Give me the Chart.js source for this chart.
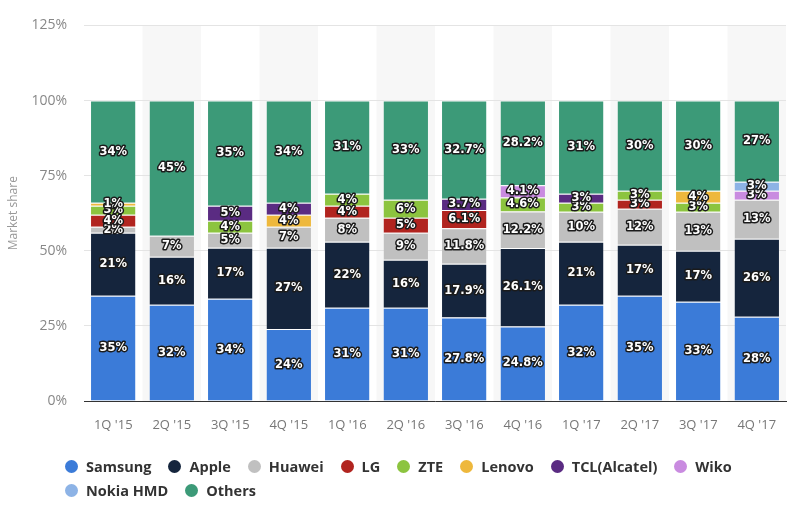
<!DOCTYPE html>
<html>
<head>
<meta charset="utf-8">
<script src="https://cdn.jsdelivr.net/npm/chart.js@4/dist/chart.umd.min.js"></script>
<style>
  html, body { margin: 0; padding: 0; background: #fff; }
  #wrap { position: relative; width: 800px; height: 519px; }
  #legend {
    position: absolute; left: 65px; top: 456px; width: 720px;
    font-family: "Open Sans", sans-serif; font-weight: 700; font-size: 14.5px; color: #333;
    display: flex; flex-wrap: wrap; row-gap: 2px;
  }
  .item { display: flex; align-items: center; margin-right: 17px; height: 20px; }
  .dot { width: 13px; height: 13px; border-radius: 50%; margin-right: 8px; }
  .brk { flex-basis: 100%; height: 0; }
</style>
</head>
<body>
<div id="wrap">
  <canvas id="chart" width="800" height="519"></canvas>
  <div id="legend"></div>
</div>
<script>
// quarters
const quarters = ["1Q '15", "2Q '15", "3Q '15", "4Q '15", "1Q '16", "2Q '16", "3Q '16", "4Q '16", "1Q '17", "2Q '17", "3Q '17", "4Q '17"];

// market share per vendor (%), null = not shown
const samsung = [35, 32, 34, 24, 31, 31, 27.8, 24.8, 32, 35, 33, 28];
const apple   = [21, 16, 17, 27, 22, 16, 17.9, 26.1, 21, 17, 17, 26];
const huawei  = [2, 7, 5, 7, 8, 9, 11.8, 12.2, 10, 12, 13, 13];
const lg      = [4, null, null, null, 4, 5, 6.1, null, null, 3, null, null];
const zte     = [3, null, 4, null, 4, 6, null, 4.6, 3, 3, 3, null];
const lenovo  = [1, null, null, 4, null, null, null, null, null, null, 4, null];
const tcl     = [null, null, 5, 4, null, null, 3.7, null, 3, null, null, null];
const wiko    = [null, null, null, null, null, null, null, 4.1, null, null, null, 3];
const nokia   = [null, null, null, null, null, null, null, null, null, null, null, 3];
const others  = [34, 45, 35, 34, 31, 33, 32.7, 28.2, 31, 30, 30, 27];

const yTicks = [0, 25, 50, 75, 100, 125];

const series = [
  { label: "Samsung", data: samsung, color: "#3b7bd8" },
  { label: "Apple", data: apple, color: "#15253d" },
  { label: "Huawei", data: huawei, color: "#c0c0c0" },
  { label: "LG", data: lg, color: "#b1241f" },
  { label: "ZTE", data: zte, color: "#8cc43f" },
  { label: "Lenovo", data: lenovo, color: "#eeb83c" },
  { label: "TCL(Alcatel)", data: tcl, color: "#5a2b82" },
  { label: "Wiko", data: wiko, color: "#c98be0" },
  { label: "Nokia HMD", data: nokia, color: "#8db3e6" },
  { label: "Others", data: others, color: "#3c9a78" }
];

// alternating column shading
const bandPlugin = {
  id: "bands",
  beforeDraw(chart) {
    const { ctx, chartArea, scales } = chart;
    const x = scales.x;
    const w = (chartArea.right - chartArea.left) / quarters.length;
    ctx.save();
    ctx.fillStyle = "#f7f7f7";
    quarters.forEach((q, i) => {
      if (i % 2 === 1) {
        const cx = x.getPixelForValue(i);
        ctx.fillRect(cx - w / 2, chartArea.top, w, chartArea.bottom - chartArea.top);
      }
    });
    ctx.restore();
  }
};

// outlined value labels inside segments
const labelPlugin = {
  id: "segLabels",
  afterDatasetsDraw(chart) {
    const ctx = chart.ctx;
    ctx.save();
    ctx.font = "bold 11.5px 'DejaVu Sans', sans-serif";
    ctx.textAlign = "center";
    ctx.textBaseline = "middle";
    ctx.lineJoin = "round";
    chart.data.datasets.forEach((ds, di) => {
      const meta = chart.getDatasetMeta(di);
      meta.data.forEach((bar, i) => {
        const v = ds.data[i];
        if (v === null || v === undefined) return;
        const y = (bar.y + bar.base) / 2;
        const txt = v + "%";
        ctx.lineWidth = 3;
        ctx.strokeStyle = "#1b1b1b";
        ctx.strokeText(txt, bar.x, y);
        ctx.fillStyle = "#ffffff";
        ctx.fillText(txt, bar.x, y);
      });
    });
    ctx.restore();
  }
};

new Chart(document.getElementById("chart").getContext("2d"), {
  type: "bar",
  data: {
    labels: quarters,
    datasets: series.map(s => ({
      label: s.label,
      data: s.data,
      backgroundColor: s.color,
      borderColor: "#ffffff",
      borderWidth: { top: 1, bottom: 0, left: 0, right: 0 },
      borderSkipped: false,
      categoryPercentage: 1,
      barPercentage: 0.76
    }))
  },
  options: {
    responsive: false,
    animation: false,
    layout: { padding: { top: 23, right: 14, bottom: 80, left: 0 } },
    plugins: {
      legend: { display: false },
      tooltip: { enabled: false }
    },
    scales: {
      x: {
        stacked: true,
        afterFit(scale) { scale.height = 38; },
        grid: { display: false },
        border: { display: true, color: "#333", width: 1 },
        ticks: { color: "#777", font: { family: "'Open Sans', sans-serif", size: 13 }, padding: 8 }
      },
      y: {
        stacked: true,
        min: 0,
        max: 125,
        afterFit(scale) { scale.width = 84; },
        afterBuildTicks(scale) { scale.ticks = yTicks.map(v => ({ value: v })); },
        grid: { color: "#e4e4e4", drawTicks: false },
        border: { display: false },
        ticks: {
          color: "#888",
          padding: 17,
          font: { family: "'Open Sans', sans-serif", size: 14 },
          callback: v => v + "%"
        },
        title: {
          display: true,
          text: "Market share",
          color: "#999",
          font: { family: "'Open Sans', sans-serif", size: 12 },
          padding: { top: 6, bottom: 0 }
        }
      }
    }
  },
  plugins: [bandPlugin, labelPlugin]
});

// legend built from the series list (second row starts at Nokia HMD)
const legend = document.getElementById("legend");
series.forEach(s => {
  if (s.label === "Nokia HMD") {
    const brk = document.createElement("div");
    brk.className = "brk";
    legend.appendChild(brk);
  }
  const item = document.createElement("div");
  item.className = "item";
  const dot = document.createElement("span");
  dot.className = "dot";
  dot.style.background = s.color;
  const txt = document.createElement("span");
  txt.textContent = s.label;
  item.appendChild(dot);
  item.appendChild(txt);
  legend.appendChild(item);
});
</script>
</body>
</html>
